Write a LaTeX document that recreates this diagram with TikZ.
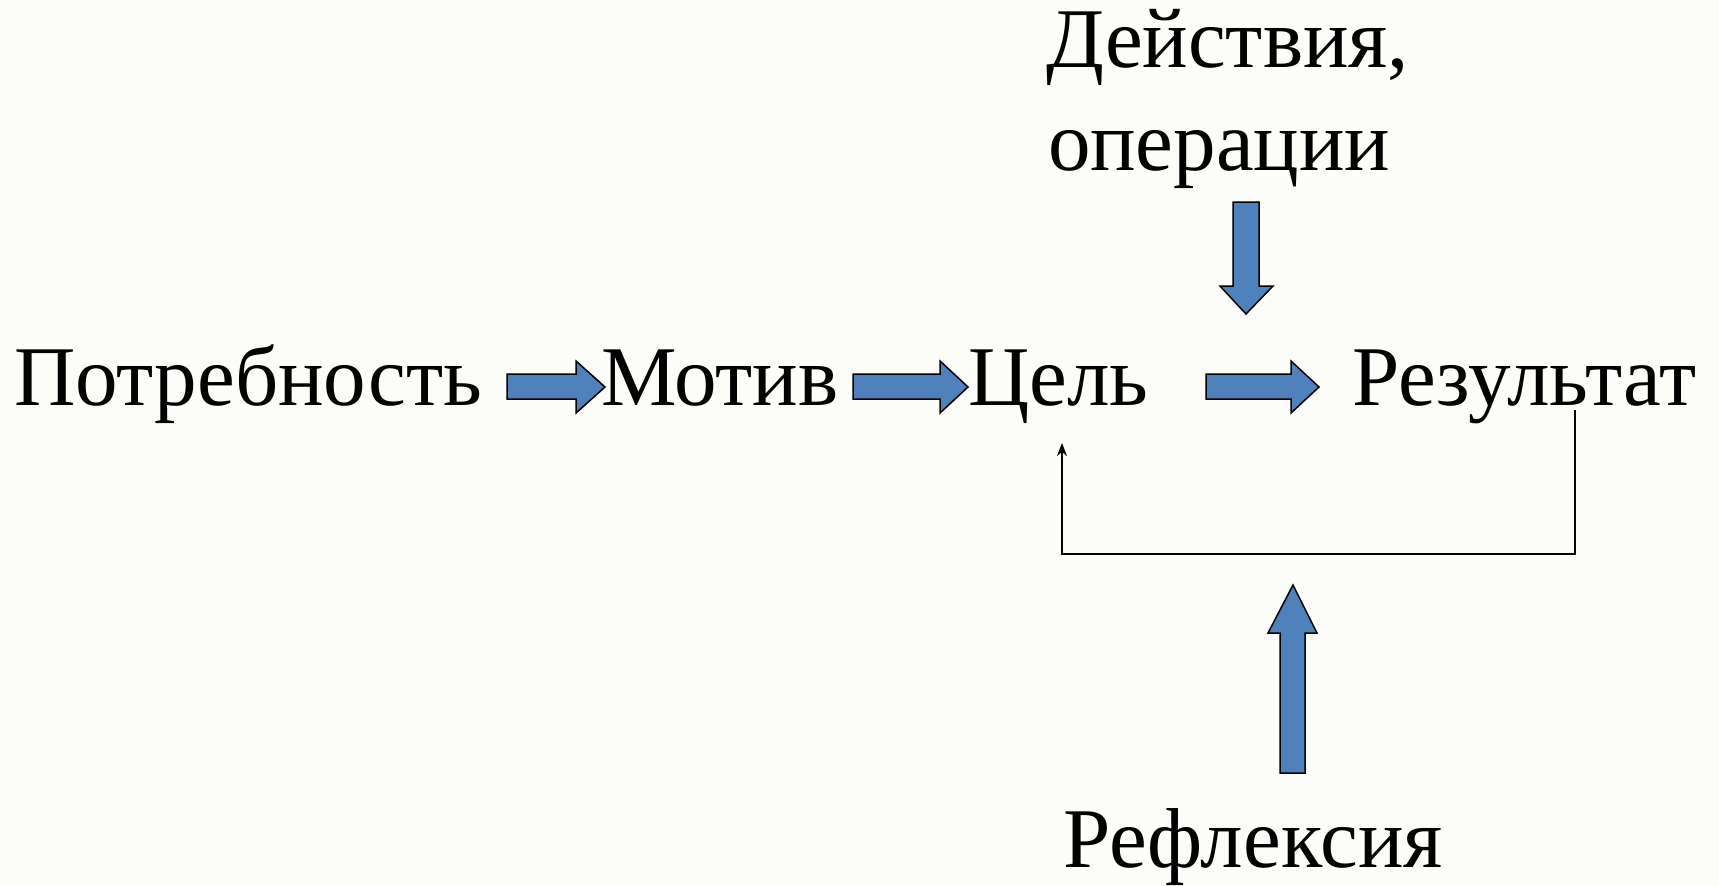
\documentclass[tikz,border=0pt]{standalone}
\usepackage{fontspec}
\setmainfont{Liberation Serif}
\usetikzlibrary{arrows.meta}
\definecolor{bgcol}{RGB}{252,252,248}
\definecolor{blockblue}{RGB}{79,129,189}
\begin{document}
\begin{tikzpicture}[x=1pt,y=-1pt,
  lbl/.style={anchor=base west,inner sep=0pt,outer sep=0pt,font=\fontsize{85}{104}\selectfont},
  blockarrow/.style={fill=blockblue,draw=black,line width=1.5pt,line join=miter},
  feedback/.style={draw=black,line width=1.6pt,-{Stealth[length=13pt,width=10pt]}}]
\fill[bgcol] (0,0) rectangle (1719,886);
\useasboundingbox (0,0) rectangle (1719,886);
% text nodes
\node[lbl] (need) at (14,405) {Потребность};
\node[lbl] (motive) at (601,405) {Мотив};
\node[lbl] (goal) at (968,405) {Цель};
\node[lbl] (result) at (1352,405) {Результат};
\node[lbl] (act1) at (1046,67) {Действия,};
\node[lbl] (act2) at (1048,170) {операции};
\node[lbl] (refl) at (1063,867) {Рефлексия};
% horizontal block arrows
\draw[blockarrow] (507,374) -- (576,374) -- (576,361) -- (605,387) -- (576,413) -- (576,399) -- (507,399) -- cycle;
\draw[blockarrow] (853,374) -- (940,374) -- (940,361) -- (968,387) -- (940,413) -- (940,399) -- (853,399) -- cycle;
\draw[blockarrow] (1206,374) -- (1291,374) -- (1291,361) -- (1319,387) -- (1291,413) -- (1291,399) -- (1206,399) -- cycle;
% down arrow (actions)
\draw[blockarrow] (1233,202) -- (1259,202) -- (1259,286) -- (1273,286) -- (1246,314) -- (1220,286) -- (1233,286) -- cycle;
% up arrow (reflection)
\draw[blockarrow] (1280,773) -- (1305,773) -- (1305,633) -- (1317,633) -- (1293,585) -- (1268,633) -- (1280,633) -- cycle;
% feedback connector from result to goal
\coordinate (fbstart) at (1575,410);
\coordinate (fbend) at (1062,443);
\draw[feedback] (fbstart) -- (1575,554) -- (1062,554) -- (fbend);
\end{tikzpicture}
\end{document}
